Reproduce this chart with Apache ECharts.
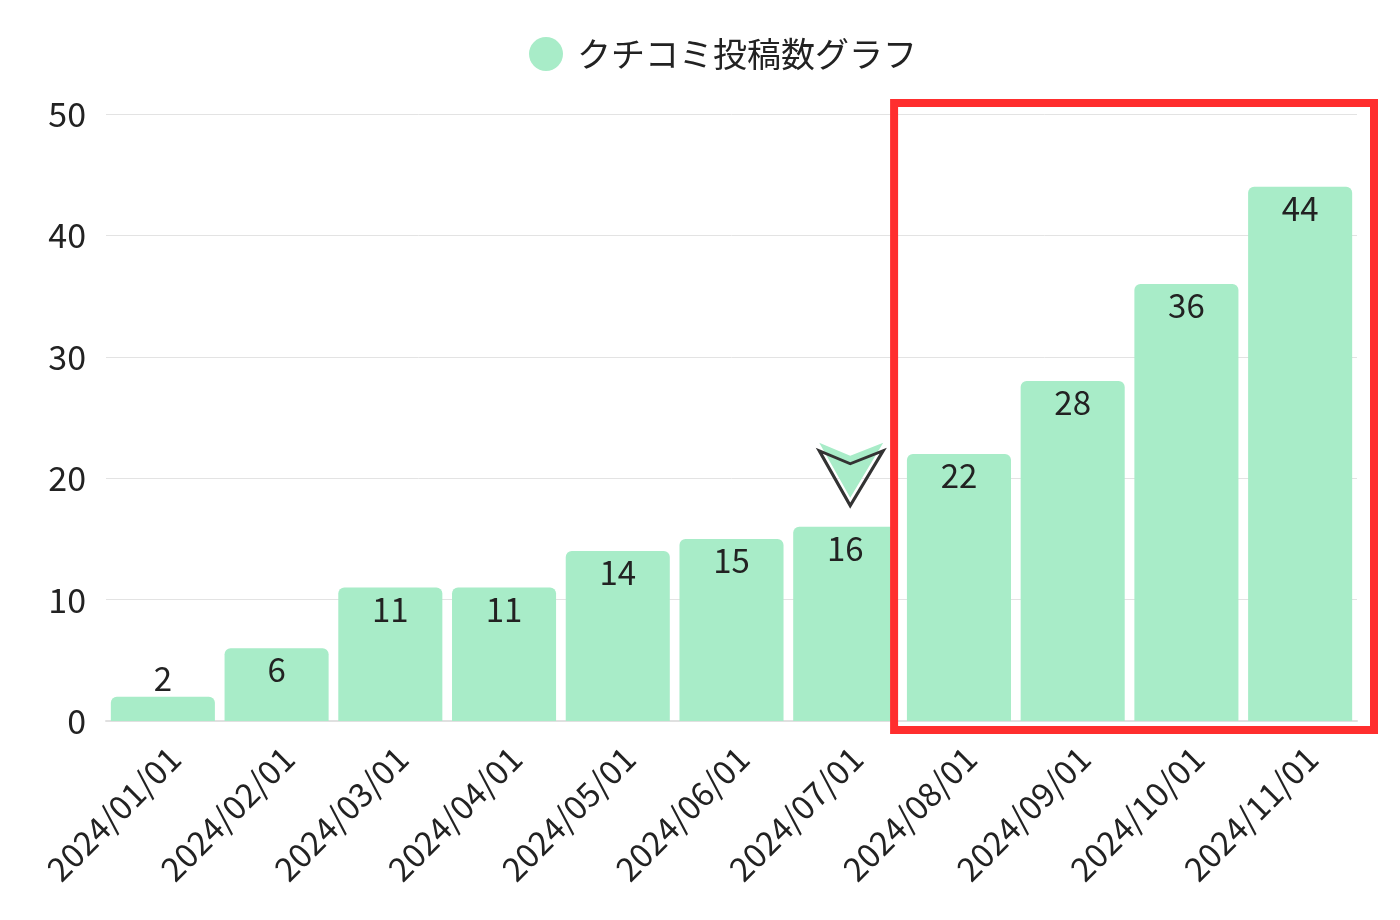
<!DOCTYPE html>
<html>
<head>
<meta charset="utf-8">
<script src="https://cdn.jsdelivr.net/npm/echarts@6/dist/echarts.min.js"></script>
<style>
html,body{margin:0;padding:0;background:#fff}
#chart{width:1400px;height:920px}
</style>
</head>
<body>
<div id="chart"></div>
<script>
var categories = ['2024/01/01','2024/02/01','2024/03/01','2024/04/01','2024/05/01','2024/06/01','2024/07/01','2024/08/01','2024/09/01','2024/10/01','2024/11/01']
var counts = [2, 6, 11, 11, 14, 15, 16, 22, 28, 36, 44]
var yTicks = [0, 10, 20, 30, 40, 50]
var highlightFrom = 7   // first highlighted bar
var arrowAt = 6         // bar under the arrow

var font = '"Noto Sans CJK JP", "Noto Sans", sans-serif'
var barColor = '#a8ecc8'
var arrowPath = 'path://M0,0 L31,13 L64,0 L31,55 Z'

var chart = echarts.init(document.getElementById('chart'))

var barData = counts.map(function(v, i){
    var item = {value: v}
    if (v < 4) item.label = {position: 'top', distance: 2}
    return item
})

var option = {
    animation: false,
    textStyle: {fontFamily: font},
    legend: {
        top: 32,
        left: 524,
        icon: 'circle',
        itemWidth: 34,
        itemHeight: 34,
        itemGap: 16,
        textStyle: {fontSize: 34, color: '#222', fontFamily: font, padding: [0, 0, 0, 9]}
    },
    grid: {left: 106, right: 43, top: 114, bottom: 199},
    xAxis: {
        type: 'category',
        data: categories,
        axisLine: {lineStyle: {color: '#e0e0e0', width: 2}},
        axisTick: {show: false},
        axisLabel: {rotate: 45, fontSize: 33, color: '#222', margin: 20, interval: 0, verticalAlign: 'top'}
    },
    yAxis: {
        type: 'value',
        min: yTicks[0],
        max: yTicks[yTicks.length - 1],
        interval: 10,
        axisLine: {show: false},
        axisTick: {show: false},
        axisLabel: {fontSize: 34, color: '#222', margin: 20},
        splitLine: {lineStyle: {color: '#e3e3e3', width: 1}}
    },
    series: [{
        name: 'クチコミ投稿数グラフ',
        type: 'bar',
        data: barData,
        barCategoryGap: '8.5%',
        itemStyle: {color: barColor, borderRadius: [6, 6, 0, 0]},
        label: {
            show: true,
            position: 'insideTop',
            distance: 5,
            fontSize: 33,
            color: '#222'
        },
        markPoint: {
            silent: true,
            label: {show: false},
            data: [
                {
                    coord: [arrowAt, 20],
                    symbol: arrowPath,
                    symbolSize: [64, 55],
                    symbolOffset: [6, -8],
                    itemStyle: {color: barColor}
                },
                {
                    coord: [arrowAt, 20],
                    symbol: arrowPath,
                    symbolSize: [64, 55],
                    symbolOffset: [6, 0],
                    itemStyle: {color: 'rgba(0,0,0,0)', borderColor: '#333', borderWidth: 3}
                }
            ]
        }
    }]
}

chart.setOption(option)

// red frame around the highlighted months
var band = chart.convertToPixel({xAxisIndex: 0}, categories[1]) - chart.convertToPixel({xAxisIndex: 0}, categories[0])
var x0 = chart.convertToPixel({xAxisIndex: 0}, categories[highlightFrom]) - band / 2 - 8
var x1 = chart.convertToPixel({xAxisIndex: 0}, categories[categories.length - 1]) + band / 2 + 17
var y0 = chart.convertToPixel({yAxisIndex: 0}, yTicks[yTicks.length - 1]) - 11
var y1 = chart.convertToPixel({yAxisIndex: 0}, 0) + 9

chart.setOption({
    graphic: [{
        type: 'rect',
        z: 100,
        shape: {x: x0, y: y0, width: x1 - x0, height: y1 - y0},
        style: {fill: 'none', stroke: '#ff2e2e', lineWidth: 8}
    }]
})
</script>
</body>
</html>
